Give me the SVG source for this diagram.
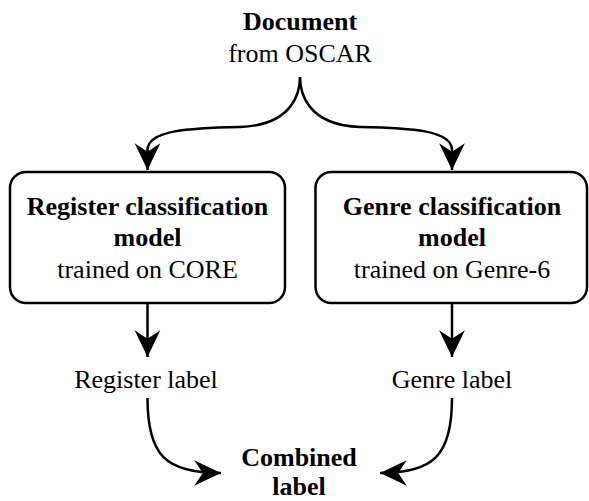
<svg xmlns="http://www.w3.org/2000/svg" width="589" height="501" viewBox="0 0 589 501">
<style>
text{font-family:"Liberation Serif","Times New Roman",serif;font-size:26px;fill:#000;text-anchor:middle}
.b{font-weight:bold}
.box{fill:#fff;stroke:#000;stroke-width:2.5}
.edge{fill:none;stroke:#000;stroke-width:2.5}
</style>
<defs>
<marker id="arr" markerUnits="userSpaceOnUse" markerWidth="30" markerHeight="30" viewBox="-26 -13 28 26" refX="0" refY="0" orient="auto" overflow="visible">
<path d="M0,0 L-25,-12 L-17,0 L-25,12 Z" fill="#000"/>
</marker>
</defs>
<rect width="589" height="501" fill="#fff"/>
<g id="connectors">
<path class="edge" d="M300,77 C300,90 295,125 240,127 C190,128 147.5,130 147.5,150 L147.5,170" marker-end="url(#arr)"/>
<path class="edge" d="M300,77 C300,90 305,125 360,127 C410,128 452,130 452,150 L452,170" marker-end="url(#arr)"/>
<path class="edge" d="M147.5,303 L147.5,357" marker-end="url(#arr)"/>
<path class="edge" d="M452,303 L452,357" marker-end="url(#arr)"/>
<path class="edge" d="M147.5,398 C147.5,455 165,473 221,473" marker-end="url(#arr)"/>
<path class="edge" d="M452,398 C452,455 434,473 380,473" marker-end="url(#arr)"/>
</g>
<g id="document">
<text class="b" x="300" y="30">Document</text>
<text x="300" y="62">from OSCAR</text>
</g>
<g id="register-model">
<rect class="box" x="10" y="172" width="275" height="131" rx="16"/>
<text class="b" x="147.5" y="214.5">Register classification</text>
<text class="b" x="147.5" y="246">model</text>
<text x="147.5" y="277.5">trained on CORE</text>
</g>
<g id="genre-model">
<rect class="box" x="315.5" y="172" width="271.5" height="131" rx="16"/>
<text class="b" x="452" y="214.5">Genre classification</text>
<text class="b" x="452" y="246">model</text>
<text x="452" y="277.5">trained on Genre-6</text>
</g>
<g id="register-label">
<text x="146" y="388">Register label</text>
</g>
<g id="genre-label">
<text x="452" y="388">Genre label</text>
</g>
<g id="combined-label">
<text class="b" x="299" y="466">Combined</text>
<text class="b" x="299" y="495">label</text>
</g>
</svg>
